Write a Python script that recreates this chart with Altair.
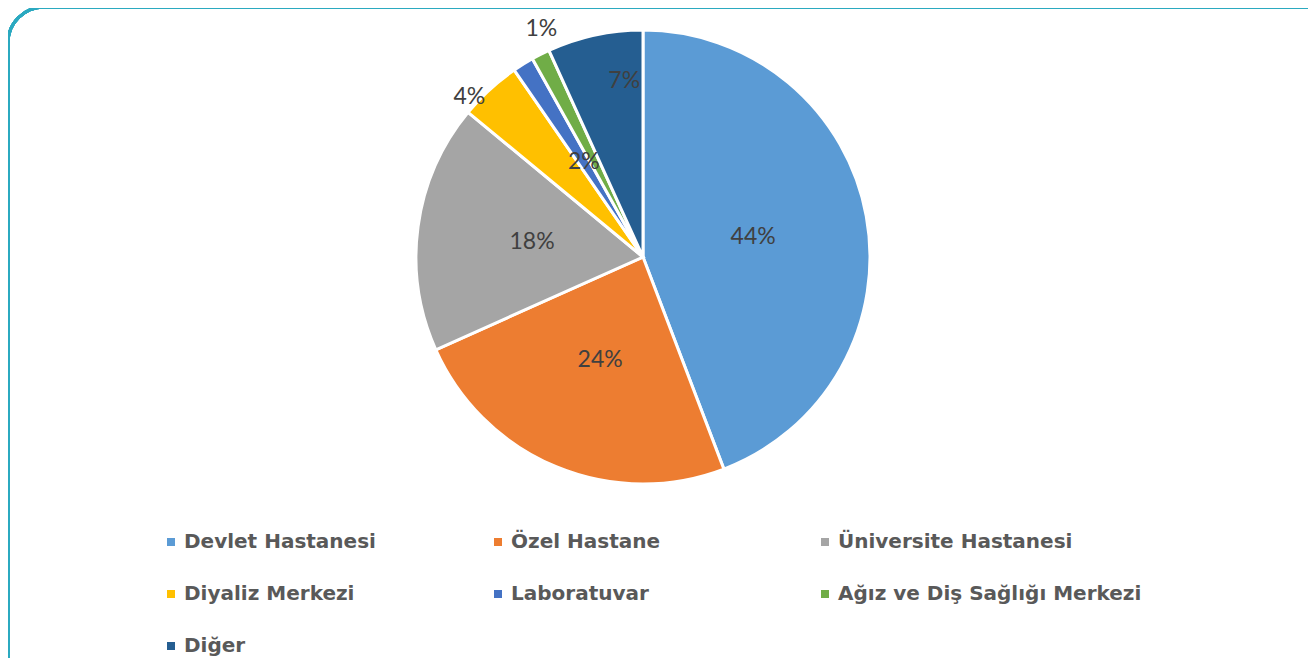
import altair as alt
import pandas as pd

categories = [
    "Devlet Hastanesi",
    "Özel Hastane",
    "Üniversite Hastanesi",
    "Diyaliz Merkezi",
    "Laboratuvar",
    "Ağız ve Diş Sağlığı Merkezi",
    "Diğer",
]
shares = [44.2, 24.1, 17.7, 4.4, 1.5, 1.3, 6.8]
labels = ["44%", "24%", "18%", "4%", "2%", "1%", "7%"]
colors = ["#5B9BD5", "#ED7D31", "#A5A5A5", "#FFC000", "#4472C4", "#70AD47", "#255E91"]

df = pd.DataFrame({
    "category": categories,
    "share": shares,
    "label": labels,
    "order": list(range(len(categories))),
})

W, H = 1300, 650
CX, CY, R = 635, 249, 227

base = alt.Chart(df).transform_joinaggregate(
    total="sum(share)"
).transform_window(
    cum="sum(share)", sort=[alt.SortField("order")], frame=[None, 0]
).transform_calculate(
    t0="2*PI*(datum.cum - datum.share)/datum.total",
    t1="2*PI*datum.cum/datum.total",
    tm="2*PI*(datum.cum - datum.share/2)/datum.total",
)

color = alt.Color(
    "category:N",
    scale=alt.Scale(domain=categories, range=colors),
    sort=categories,
    legend=alt.Legend(
        orient="none",
        legendX=153,
        legendY=524,
        direction="horizontal",
        columns=3,
        gridAlign="all",
        title=None,
        symbolType="square",
        symbolSize=64,
        symbolStrokeWidth=0,
        labelFont="DejaVu Sans",
        labelFontWeight="bold",
        labelFontSize=20,
        labelColor="#595959",
        labelOffset=3,
        labelLimit=500,
        columnPadding=0,
        rowPadding=32,
        padding=0,
    ),
)

arcs = base.mark_arc(radius=R, stroke="white", strokeWidth=3).encode(
    theta=alt.Theta("t0:Q", scale=None),
    theta2="t1:Q",
    color=color,
    x=alt.value(CX),
    y=alt.value(CY),
)

def label_layer(cats, radius, dx=0, dy=0):
    return base.transform_filter(
        alt.FieldOneOfPredicate(field="category", oneOf=cats)
    ).mark_text(
        radius=radius, font="Lato", fontSize=23, color="#404040", dx=dx, dy=dy
    ).encode(
        theta=alt.Theta("tm:Q", scale=None),
        text="label:N",
        x=alt.value(CX),
        y=alt.value(CY),
    )

inner = label_layer(["Devlet Hastanesi", "Özel Hastane", "Üniversite Hastanesi", "Laboratuvar"], 112)
other = label_layer(["Diğer"], 178, dx=19, dy=-2)
dia = label_layer(["Diyaliz Merkezi"], 238, dx=-13, dy=16)
agiz = label_layer(["Ağız ve Diş Sağlığı Merkezi"], 252, dx=12, dy=-3)

frame = alt.Chart(df).mark_rect(
    fill=None, stroke="#2BA9C0", strokeWidth=3, cornerRadius=36
).encode(
    x=alt.value(0),
    x2=alt.value(1360),
    y=alt.value(-1),
    y2=alt.value(720),
)

chart = alt.layer(frame, arcs, inner, other, dia, agiz).properties(
    width=W, height=H, padding=0, autosize=alt.AutoSizeParams(type="none")
).configure_view(stroke=None)

chart.save("out.html", embed_options={"renderer": "svg", "actions": False})
